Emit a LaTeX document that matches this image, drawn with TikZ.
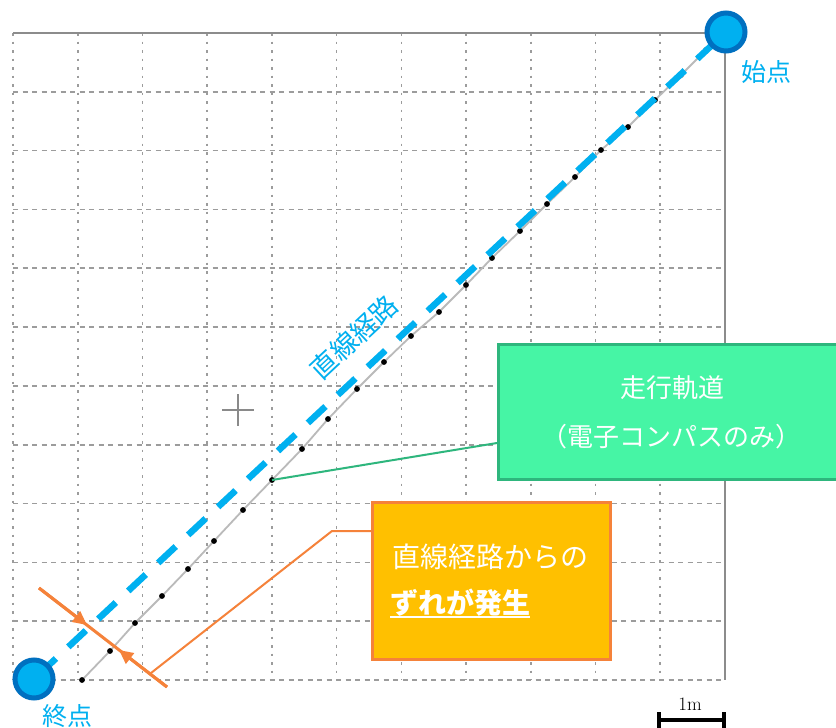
\documentclass[tikz,border=0pt]{standalone}
\usepackage{fontspec}
\newfontfamily\jp{Noto Sans CJK JP}
\usetikzlibrary{arrows.meta}
\definecolor{skyblue}{HTML}{00B0F0}
\definecolor{darkblue}{HTML}{0070C0}
\definecolor{gridgray}{HTML}{9C9C9C}
\definecolor{axisgray}{HTML}{8C8C8C}
\definecolor{trajgray}{HTML}{BABABA}
\definecolor{greenfill}{HTML}{46F5A5}
\definecolor{greenline}{HTML}{2EB67D}
\definecolor{orangefill}{HTML}{FFC000}
\definecolor{orangeline}{HTML}{F5823A}
\definecolor{crossgray}{HTML}{8A8A8A}
\tikzset{
  vgrid/.style={gridgray, line width=1.7pt, dash pattern=on 2.5pt off 6pt},
  hgrid/.style={gridgray, line width=1.7pt, dash pattern=on 5pt off 4.5pt},
  axisline/.style={axisgray, line width=1.7pt},
  route/.style={skyblue, line width=6.5pt, dash pattern=on 24pt off 17pt, dash phase=35pt},
  traj/.style={trajgray, line width=1.8pt},
  endpt/.style={circle, fill=skyblue, draw=darkblue, line width=5pt, minimum size=38pt, inner sep=0pt},
  bluelabel/.style={text=skyblue, font=\jp\fontsize{25}{28}\selectfont, inner sep=0pt},
  greenbox/.style={rectangle, fill=greenfill, draw=greenline, line width=3pt, anchor=north west, minimum width=352pt, minimum height=135pt, inner sep=0pt},
  orangebox/.style={rectangle, fill=orangefill, draw=orangeline, line width=3pt, anchor=north west, minimum width=238pt, minimum height=157pt, inner sep=0pt},
  greentext/.style={text=white, font=\jp\fontsize{26}{29}\selectfont, inner sep=0pt},
  orangetext/.style={text=white, font=\jp\fontsize{28}{31}\selectfont, inner sep=0pt},
  gconn/.style={greenline, line width=2pt},
  oconn/.style={orangeline, line width=2pt},
  crossline/.style={orangeline, line width=3pt},
  crossarrow/.style={orangeline, line width=3pt, -{Triangle[length=14pt,width=13pt]}},
  plusmark/.style={crossgray, line width=1.4pt},
  scalebar/.style={black, line width=3.2pt}
}
\begin{document}
\begin{tikzpicture}[x=1pt,y=-1pt]
\clip (0,0) rectangle (836,728);
\fill[white] (0,0) rectangle (836,728);
% grid
\foreach \i in {0,...,10} \draw[vgrid] ({13+\i*64.727},33) -- ({13+\i*64.727},680);
\foreach \j in {1,...,11} \draw[hgrid] (13,{33+\j*58.818}) -- (725,{33+\j*58.818});
\draw[axisline] (13,33) -- (725,33) -- (725,680);
% plus mark
\draw[plusmark] (222,410) -- (254,410) (238,394) -- (238,426);
% endpoints
\coordinate (S) at (726,32);
\coordinate (E) at (34,679);
% trajectory dots
\foreach \k/\px/\py in {1/82/680,2/110/651,3/135/623,4/162/596,5/188/569,6/214/541,7/243/510,8/272/480,9/302/449,10/328/419,11/357/389,12/384/362,13/411/336,14/439/312,15/466/285,16/492/258,17/520/231,18/547/204,19/575/177,20/601/150,21/628/127,22/655/100,23/681/75,24/706/50}
  \coordinate (d\k) at (\px,\py);
\draw[traj] (d1) \foreach \k in {2,...,24}{ -- (d\k)} -- (S);
\foreach \k in {1,...,24} \fill[black] (d\k) circle (2.9pt);
% straight route
\draw[route] (E) -- (S);
\node[endpt] (start) at (S) {};
\node[endpt] (end) at (E) {};
\node[bluelabel] (startlbl) at (766,72) {始点};
\node[bluelabel] (endlbl) at (67,716) {終点};
\node[bluelabel, font=\jp\fontsize{27}{30}\selectfont, rotate=43] (routelbl) at (354,337) {直線経路};
% green callout
\coordinate (gc) at (497,443);
\draw[gconn] (d8) -- (gc);
\node[greenbox] (gbox) at (497,343) {};
\node[greentext] (g1) at (672,388) {走行軌道};
\node[greentext] (g2) at (671,437) {（電子コンパスのみ）};
% orange callout
\coordinate (ob) at (371,531);
\coordinate (obend) at (332,531);
\coordinate (otip) at (151,673);
\draw[oconn] (ob) -- (obend) -- (otip);
\node[orangebox] (obox) at (371,501) {};
\node[orangetext, anchor=base west] (o1) at (392,567) {直線経路からの};
\node[orangetext, anchor=base west, font=\jp\bfseries\fontsize{28}{31}\selectfont] (o2) at (390,613) {ずれが発生};
\draw[white, line width=2pt] ([yshift=-4pt]o2.base west) -- ([yshift=-4pt]o2.base east);
% offset marker
\coordinate (c1) at (39,588);
\coordinate (c2) at (167,687);
\coordinate (a1) at (87,625);
\coordinate (a2) at (119,650);
\draw[crossline] (c1) -- (c2);
\draw[crossarrow] (c1) -- (a1);
\draw[crossarrow] (c2) -- (a2);
% scale
\coordinate (sb1) at (659,720);
\coordinate (sb2) at (724,720);
\draw[scalebar] (sb1) -- (sb2);
\draw[scalebar] ([yshift=8pt]sb1) -- ([yshift=-9pt]sb1);
\draw[scalebar] ([yshift=8pt]sb2) -- ([yshift=-9pt]sb2);
\node[font=\fontsize{19}{21}\selectfont, inner sep=0pt] (scl) at (690,704) {1m};
\end{tikzpicture}
\end{document}
